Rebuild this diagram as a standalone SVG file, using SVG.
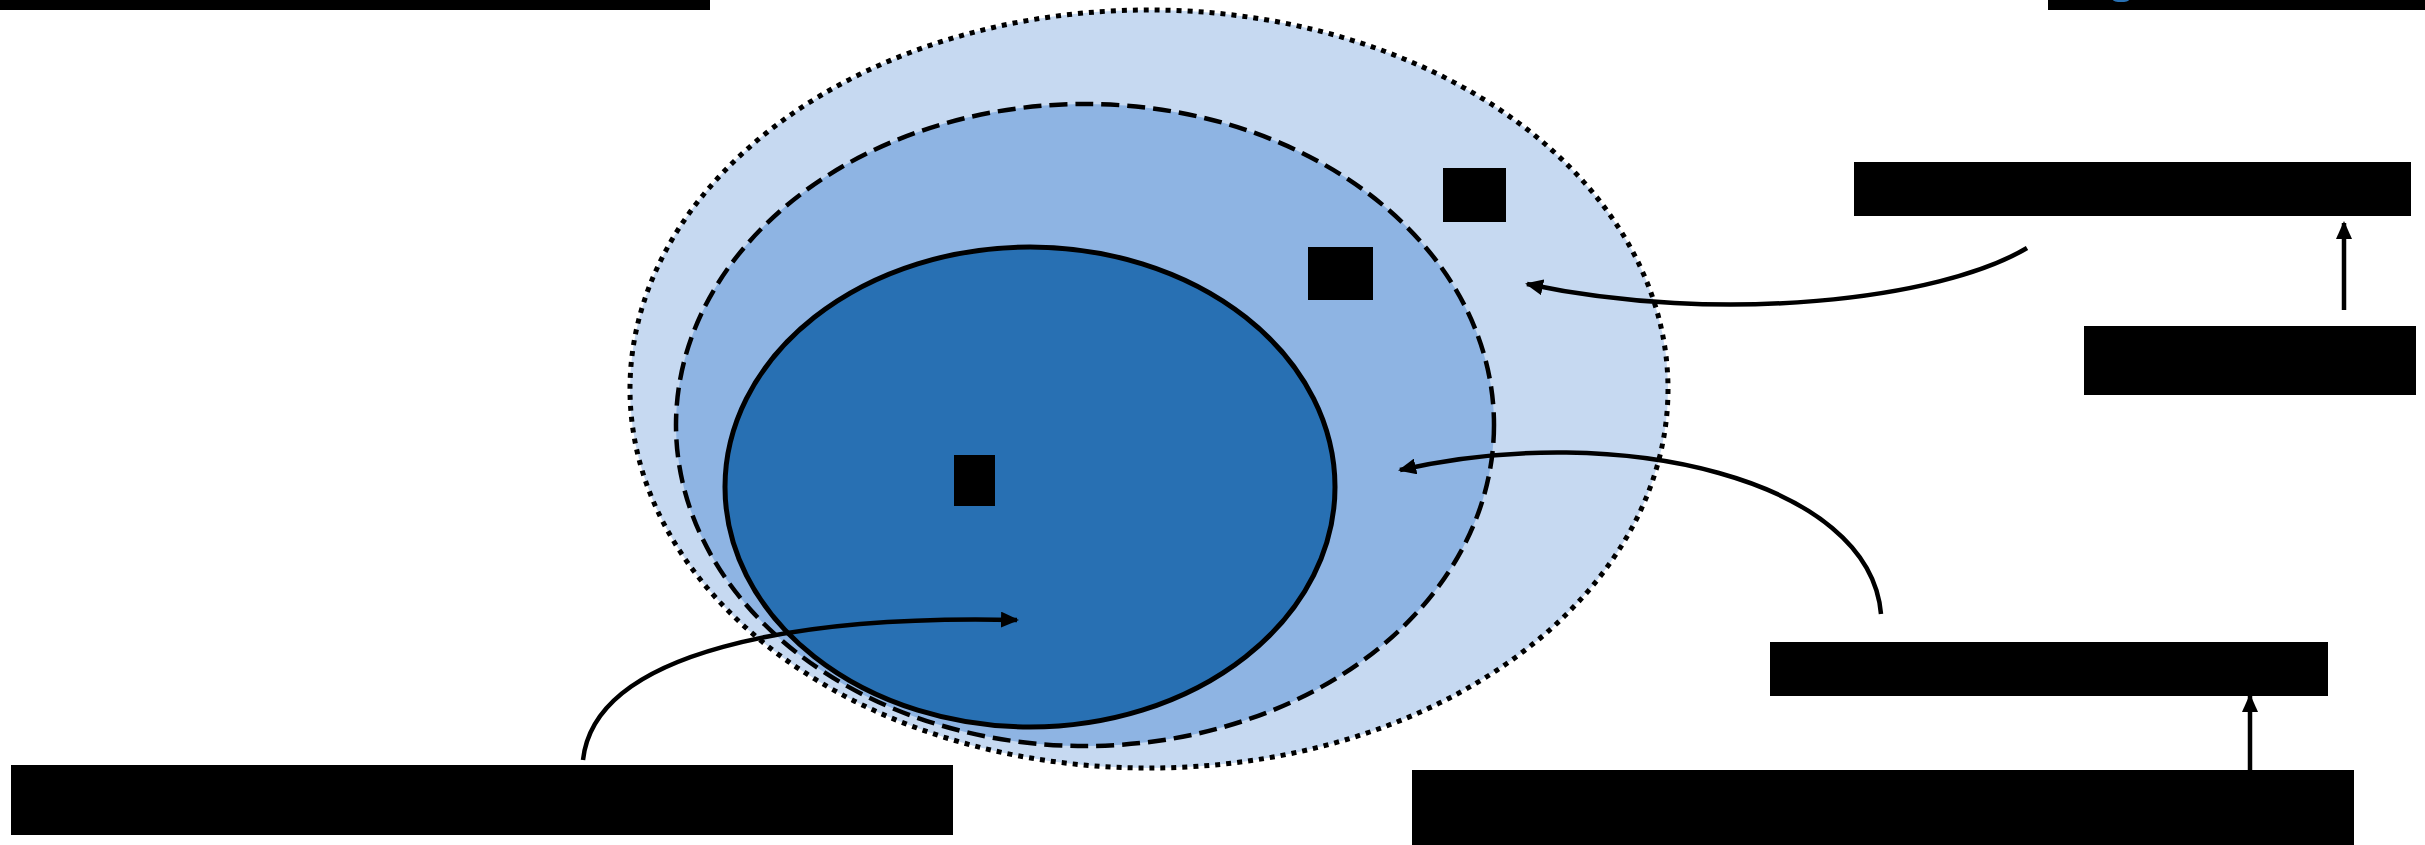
<svg xmlns="http://www.w3.org/2000/svg" width="2425" height="845" viewBox="0 0 2425 845">
<style>
.blk{fill:#000}
.conn{fill:none;stroke:#000;stroke-width:4.5}
.outer{fill:#C6D9F1;stroke:#000;stroke-width:5;stroke-dasharray:5 6}
.middle{fill:#8EB4E3;stroke:#000;stroke-width:4.5;stroke-dasharray:18 8}
.inner{fill:#2870B3;stroke:#000;stroke-width:5}
</style>
<defs>
<marker id="ah" markerUnits="userSpaceOnUse" markerWidth="18" markerHeight="16" refX="16" refY="8" orient="auto">
<path d="M0,0 L18,8 L0,16 Z" fill="#000"/>
</marker>
</defs>
<rect width="2425" height="845" fill="#fff"/>
<g id="bar-top-left"><rect class="blk" x="0" y="0" width="710" height="10"/></g>
<g id="bar-top-right"><rect class="blk" x="2048" y="0" width="377" height="10"/><ellipse cx="2121" cy="0" rx="8" ry="2" fill="#2870B3"/></g>
<g id="outer-zone"><ellipse class="outer" cx="1149" cy="389" rx="519" ry="379"/></g>
<g id="middle-zone"><ellipse class="middle" cx="1085" cy="425" rx="409" ry="321"/></g>
<g id="inner-zone"><ellipse class="inner" cx="1030" cy="487" rx="305" ry="240"/></g>
<g id="label-outer"><rect class="blk" x="1443" y="168" width="63" height="54"/></g>
<g id="label-middle"><rect class="blk" x="1308" y="247" width="65" height="53"/></g>
<g id="label-inner"><rect class="blk" x="954" y="455" width="41" height="51"/></g>
<g id="box-a"><rect class="blk" x="1854" y="162" width="557" height="54"/></g>
<g id="box-b"><rect class="blk" x="2084" y="326" width="332" height="69"/></g>
<g id="box-c"><rect class="blk" x="1770" y="642" width="558" height="54"/></g>
<g id="box-d"><rect class="blk" x="1412" y="770" width="942" height="75"/></g>
<g id="box-e"><rect class="blk" x="11" y="765" width="942" height="70"/></g>
<g id="connectors">
<path class="conn" d="M2027,248 C1940,300 1720,325 1527,284" marker-end="url(#ah)"/>
<path class="conn" d="M1881,614 C1870,480 1620,420 1400,470" marker-end="url(#ah)"/>
<path class="conn" d="M583,760 C595,650 800,615 1017,620" marker-end="url(#ah)"/>
<path class="conn" d="M2344,310 L2344,223" marker-end="url(#ah)"/>
<path class="conn" d="M2250,770 L2250,696" marker-end="url(#ah)"/>
</g>
</svg>
